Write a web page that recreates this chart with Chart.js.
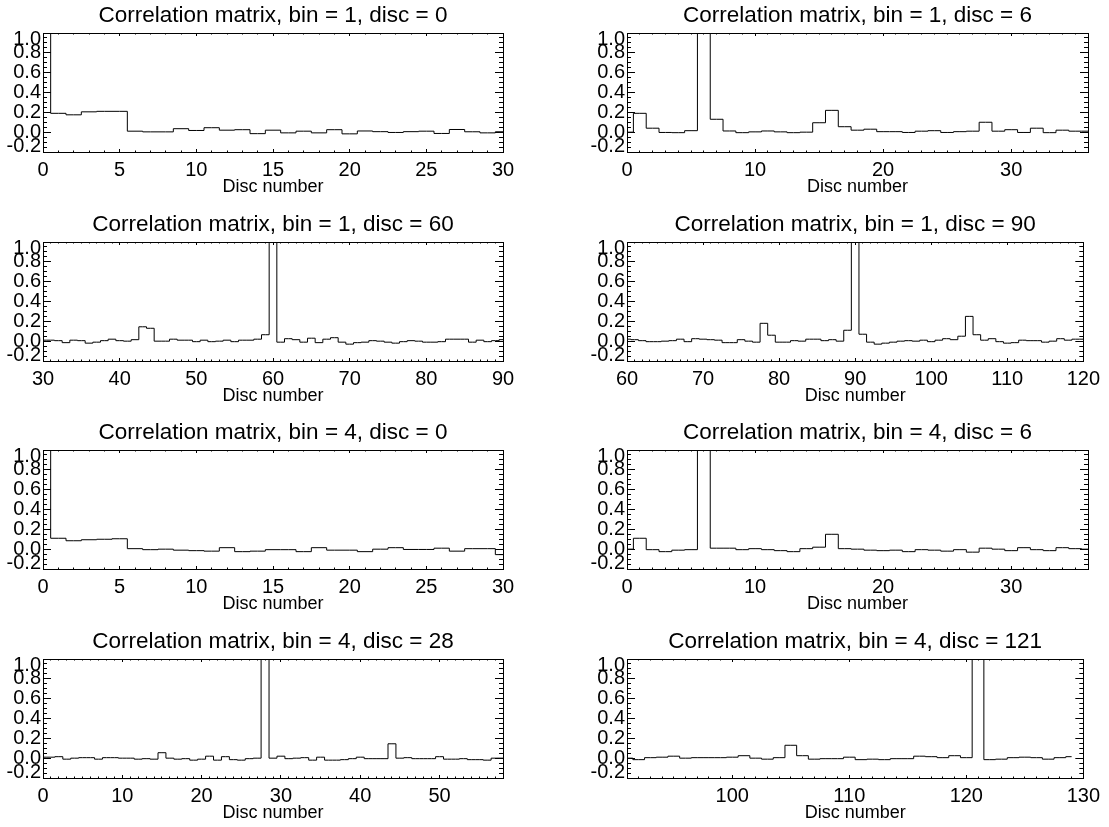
<!DOCTYPE html>
<html><head><meta charset="utf-8">
<script src="https://cdn.jsdelivr.net/npm/chart.js@4.4.1/dist/chart.umd.min.js"></script>
<style>
html,body{margin:0;padding:0;background:#fff;}
body{width:1109px;height:827px;position:relative;overflow:hidden;}
canvas{position:absolute;}
</style></head><body>
<script>
// ---------------- DATA ----------------
const panelTitles = [
  'Correlation matrix, bin = 1, disc = 0',
  'Correlation matrix, bin = 1, disc = 6',
  'Correlation matrix, bin = 1, disc = 60',
  'Correlation matrix, bin = 1, disc = 90',
  'Correlation matrix, bin = 4, disc = 0',
  'Correlation matrix, bin = 4, disc = 6',
  'Correlation matrix, bin = 4, disc = 28',
  'Correlation matrix, bin = 4, disc = 121'
];
const xAxisTitle = 'Disc number';
const panelXMin = [0, 0, 30, 60, 0, 0, 0, 91];
const panelXMax = [30, 36, 90, 120, 30, 36, 58, 130];
const panelFirstDisc = [0, 0, 30, 60, 0, 0, 0, 91];
const panelXTicks = [
  [0, 5, 10, 15, 20, 25, 30],
  [0, 10, 20, 30],
  [30, 40, 50, 60, 70, 80, 90],
  [60, 70, 80, 90, 100, 110, 120],
  [0, 5, 10, 15, 20, 25, 30],
  [0, 10, 20, 30],
  [0, 10, 20, 30, 40, 50],
  [100, 110, 120, 130]
];
const yTickValues = [-0.2, 0.0, 0.2, 0.4, 0.6, 0.8, 1.0];
const yTickLabels = ['-0.2', '0.0', '0.2', '0.4', '0.6', '0.8', '1.0'];
const yMin = -0.2, yMax = 1.0;
const xMinorStep = 1, yMinorStep = 0.05;

const corrBin1Disc0 = [1.0, 0.19, 0.175, 0.205, 0.21, 0.21, 0.01, 0.003, 0.003, 0.035, 0.017, 0.045, 0.02, 0.025, -0.015, 0.02, -0.007, 0.01, -0.007, 0.025, -0.017, 0.012, 0.005, -0.003, 0.005, 0.01, -0.013, 0.027, 0.004, -0.007, 0.004];
const corrBin1Disc6 = [0.0, 0.19, 0.04, -0.003, -0.005, 0.015, 1.0, 0.13, 0.012, -0.005, 0.003, 0.012, 0.003, -0.005, 0.0, 0.095, 0.22, 0.055, 0.02, 0.03, 0.005, 0.005, -0.003, 0.01, 0.015, -0.003, 0.005, 0.01, 0.1, 0.01, 0.025, -0.003, 0.04, -0.005, 0.02, 0.01, 0.01];
const corrBin1Disc60 = [0.01, 0.01, 0.005, -0.015, 0.01, 0.005, -0.02, -0.01, 0.005, 0.02, 0.005, 0.0, 0.015, 0.145, 0.13, 0.0, 0.0, 0.02, 0.01, 0.01, -0.005, 0.01, -0.005, 0.0, 0.01, -0.005, 0.01, 0.01, 0.02, 0.065, 1.0, -0.01, 0.025, 0.015, -0.01, 0.03, -0.015, 0.02, 0.035, -0.01, -0.03, -0.015, -0.01, 0.005, 0.0, -0.01, -0.02, -0.005, 0.005, 0.0, -0.01, -0.01, -0.005, 0.02, 0.02, 0.02, -0.01, 0.01, -0.005, 0.005, 0.015];
const corrBin1Disc90 = [0.02, 0.015, 0.005, -0.005, -0.005, 0.0, 0.005, 0.02, -0.005, 0.025, 0.02, 0.015, 0.01, -0.015, -0.015, 0.015, 0.0, -0.01, 0.18, 0.06, -0.01, -0.01, 0.005, 0.0, 0.02, 0.02, 0.005, 0.015, 0.0, 0.11, 1.0, 0.07, -0.01, -0.03, -0.02, -0.01, 0.0, 0.005, 0.0, 0.01, -0.005, 0.01, 0.025, 0.015, 0.05, 0.25, 0.065, 0.01, 0.025, -0.005, -0.02, -0.015, 0.01, 0.005, 0.005, -0.01, 0.0, 0.025, 0.01, 0.02, 0.02];
const corrBin4Disc0 = [1.0, 0.11, 0.085, 0.095, 0.1, 0.105, 0.005, -0.005, 0.0, -0.01, -0.015, -0.02, 0.015, -0.025, -0.02, -0.005, -0.005, -0.025, 0.015, -0.01, -0.01, -0.025, 0.0, 0.015, -0.003, -0.003, 0.01, -0.02, 0.005, 0.005, -0.055];
const corrBin4Disc6 = [0.0, 0.11, -0.005, -0.025, -0.01, -0.005, 1.0, 0.01, 0.01, -0.005, 0.005, -0.005, -0.015, -0.025, 0.005, 0.02, 0.15, 0.005, 0.0, -0.01, -0.015, -0.01, -0.025, -0.005, -0.01, -0.02, -0.005, -0.03, 0.01, 0.0, -0.015, 0.015, -0.005, -0.015, 0.015, 0.005, 0.0];
const corrBin4Disc28 = [0.01, 0.01, 0.015, -0.01, 0.0, 0.005, 0.005, -0.01, 0.005, 0.005, 0.0, 0.0, -0.01, -0.005, -0.01, 0.055, 0.0, -0.01, -0.005, -0.02, -0.01, 0.02, -0.02, 0.015, -0.015, -0.02, -0.005, 0.0, 1.0, 0.0, 0.02, -0.005, 0.0, 0.005, -0.02, 0.01, -0.02, -0.02, -0.015, -0.005, 0.01, -0.005, -0.005, -0.005, 0.145, 0.0, 0.005, -0.005, -0.005, -0.005, 0.015, -0.01, -0.01, -0.005, -0.015, -0.015, -0.02, 0.0, 0.0];
const corrBin4Disc121 = [0.0, -0.015, 0.005, 0.01, 0.02, 0.0, 0.005, 0.005, 0.005, 0.01, 0.025, 0.0, -0.01, 0.005, 0.13, 0.025, -0.01, -0.005, -0.005, 0.01, -0.015, -0.01, -0.015, -0.005, -0.005, 0.02, 0.015, 0.005, 0.025, 0.005, 1.0, -0.015, -0.01, 0.005, 0.01, 0.005, -0.01, 0.005, 0.015];
const panelSeries = [corrBin1Disc0, corrBin1Disc6, corrBin1Disc60, corrBin1Disc90,
                     corrBin4Disc0, corrBin4Disc6, corrBin4Disc28, corrBin4Disc121];

// ---------------- LAYOUT ----------------
const FONT = '"Liberation Sans", Arial, Helvetica, sans-serif';
const colBoxLeft = [43, 627];
const colBoxWidth = [460, 461];
const rowBoxTop = [33, 241.5, 450, 658.5];
const boxH = 119;
const padL = 43, padR = 21, padT = 33, padB = 55;
const tickFontSize = 20;

Chart.defaults.font.family = FONT;
Chart.defaults.color = '#000';

function minorTicks(min, max, step) {
  const out = [];
  const n0 = Math.ceil(min / step - 1e-9), n1 = Math.floor(max / step + 1e-9);
  for (let n = n0; n <= n1; n++) out.push({value: Math.round(n * step * 1e6) / 1e6});
  return out;
}

function tickAxis(position, min, max, ticksFn, len, weight) {
  return {
    type: 'linear', position, min, max, weight,
    afterBuildTicks: s => { s.ticks = ticksFn(); },
    afterFit: s => { if (position === 'top' || position === 'bottom') s.height = 0; else s.width = 0; },
    grid: {display: true, drawOnChartArea: false, drawTicks: true, tickLength: -len, tickColor: '#000', tickWidth: 1},
    border: {display: true, color: '#000', width: 1},
    ticks: {display: false}
  };
}

for (let p = 0; p < 8; p++) {
  const col = p % 2, row = Math.floor(p / 2);
  const bw = colBoxWidth[col];
  const cv = document.createElement('canvas');
  const W = padL + bw + padR, H = padT + boxH + padB;
  cv.width = W; cv.height = H;
  cv.style.width = W + 'px'; cv.style.height = H + 'px';
  cv.style.left = (colBoxLeft[col] - padL) + 'px';
  cv.style.top = (rowBoxTop[row] - padT) + 'px';
  document.body.appendChild(cv);

  const xmin = panelXMin[p], xmax = panelXMax[p];
  const xt = panelXTicks[p];
  const pts = panelSeries[p].map((v, i) => ({x: panelFirstDisc[p] + i, y: v}));

  new Chart(cv, {
    type: 'line',
    data: {datasets: [{
      data: pts, stepped: 'middle', borderColor: '#000', borderWidth: 1,
      pointRadius: 0, fill: false, tension: 0
    }]},
    options: {
      responsive: false, animation: false, events: [],
      layout: {padding: {left: 0, right: padR, top: 0, bottom: 0}},
      plugins: {
        legend: {display: false}, tooltip: {enabled: false},
        title: {display: true, text: panelTitles[p], color: '#000', fullSize: false,
                font: {family: FONT, size: 22.5, weight: 'normal', lineHeight: 1.2},
                padding: {top: 2.5, bottom: 3.5}}
      },
      scales: {
        x: {
          type: 'linear', position: 'bottom', min: xmin, max: xmax, weight: 1,
          afterBuildTicks: s => { s.ticks = xt.map(v => ({value: v})); },
          afterFit: s => { s.height = padB; },
          grid: {display: true, drawOnChartArea: false, drawTicks: true, tickLength: -3, tickColor: '#000', tickWidth: 1},
          border: {display: true, color: '#000', width: 1},
          ticks: {display: true, autoSkip: false, maxRotation: 0, minRotation: 0, padding: 9, color: '#000',
                  font: {family: FONT, size: tickFontSize, lineHeight: 1.2}, callback: v => String(v)},
          title: {display: true, text: xAxisTitle, color: '#000',
                  font: {family: FONT, size: 18, lineHeight: 1.2}, padding: {top: 0, bottom: 8.7}}
        },
        xMinor: tickAxis('bottom', xmin, xmax, () => minorTicks(xmin, xmax, xMinorStep), 1.5, 0),
        xTop: tickAxis('top', xmin, xmax, () => xt.map(v => ({value: v})), 3, 0),
        xTopMinor: tickAxis('top', xmin, xmax, () => minorTicks(xmin, xmax, xMinorStep), 1.5, 0),
        y: {
          type: 'linear', position: 'left', min: yMin, max: yMax, weight: 1,
          afterBuildTicks: s => { s.ticks = yTickValues.map(v => ({value: v})); },
          afterFit: s => { s.width = padL; },
          grid: {display: true, drawOnChartArea: false, drawTicks: true, tickLength: -8, tickColor: '#000', tickWidth: 1},
          border: {display: true, color: '#000', width: 1},
          ticks: {display: true, autoSkip: false, padding: 10, color: '#000',
                  font: {family: FONT, size: tickFontSize, lineHeight: '12px'},
                  callback: (v, i) => {
                    const lbl = yTickLabels[i];
                    if (i === yTickLabels.length - 1) return ['', lbl];
                    if (i === 0) return [lbl, ''];
                    return lbl;
                  }}
        },
        yMinor: tickAxis('left', yMin, yMax, () => minorTicks(yMin, yMax, yMinorStep), 4, 0),
        yRight: tickAxis('right', yMin, yMax, () => yTickValues.map(v => ({value: v})), 8, 0),
        yRightMinor: tickAxis('right', yMin, yMax, () => minorTicks(yMin, yMax, yMinorStep), 4, 0)
      }
    }
  });
}
</script>
</body></html>
